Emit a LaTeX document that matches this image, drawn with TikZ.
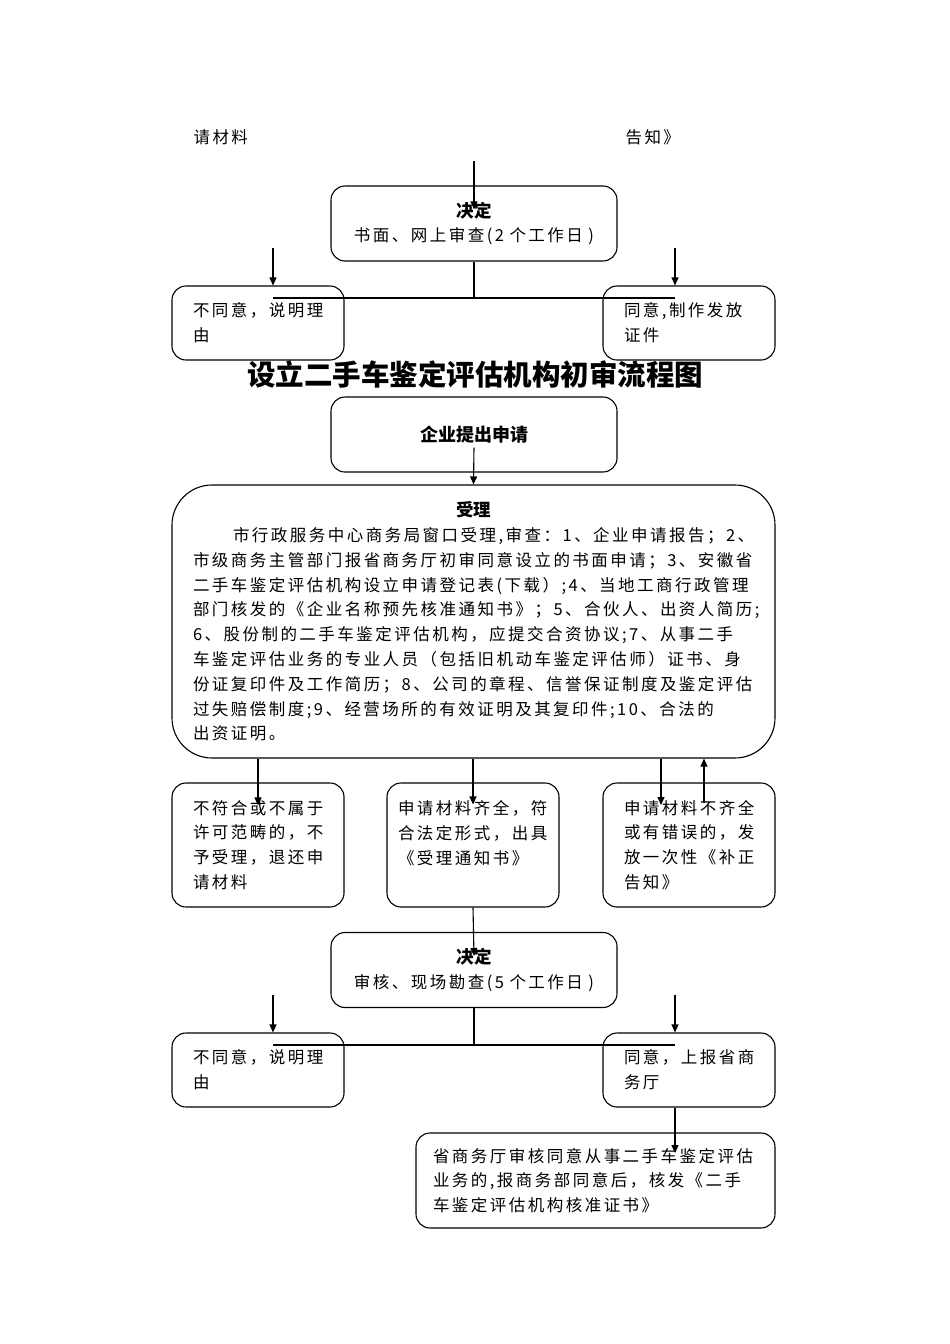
\documentclass[tikz,border=0pt]{standalone}
\usepackage{fontspec}
\setmainfont{Noto Sans CJK SC}
\newfontfamily\bodyfont[LetterSpace=15]{Noto Sans CJK SC}
\newfontfamily\headfont{Noto Sans CJK SC}
\usetikzlibrary{positioning, arrows.meta}

\newcommand{\bodysize}{\fontsize{16.5}{24.8}\selectfont}
\newcommand{\headtxt}[1]{{\headfont\bfseries\fontsize{17.5}{24.8}\selectfont #1}}

\tikzset{
  box/.style={draw, rounded corners=14pt, minimum width=172pt, minimum height=74pt,
    text width=130pt, inner xsep=21pt, inner ysep=0pt, align=left, font=\bodyfont\bodysize},
  tallbox/.style={box, minimum height=124pt},
  decide/.style={box, minimum width=286pt, minimum height=75pt, text width=266pt,
    inner xsep=10pt, align=center},
  bigbox/.style={box, rounded corners=40pt, minimum width=603pt, minimum height=273pt,
    text width=561pt},
  lastbox/.style={box, minimum width=359pt, minimum height=95pt, text width=325pt,
    inner xsep=17pt},
  plain/.style={inner sep=0pt, font=\bodyfont\bodysize},
  heading/.style={inner sep=0pt, font=\headfont\bfseries\fontsize{28.5}{34}\selectfont}
}

\begin{document}
\begin{tikzpicture}[x=1pt, y=-1pt, line width=1.1pt, on grid,
    >={Triangle[length=8pt, width=7pt]}]
    \useasboundingbox (0,0) rectangle (950,1344);

    % leftover lines from the previous page
    \node[plain, anchor=west] (tail1) at (193,137) {请材料};
    \node[plain, anchor=west] (tail2) at (625,137) {告知》};

    % first decision
    \node[decide] (d1) at (474,223.5) {\headtxt{决定}\\书面、网上审查(2 个工作日 )};
    \node[box] (n1) at (258,323) {不同意，说明理\\由};
    \node[box] (y1) [right=431pt of n1] {同意,制作发放\\证件};

    \node[heading] (title) at (475,374) {设立二手车鉴定评估机构初审流程图};

    % application and acceptance
    \node[decide] (apply) at (474,434.5) {\headtxt{\fontsize{18}{24.8}\selectfont 企业提出申请}};
    \node[bigbox] (acc) at (473.5,621.5) {\makebox[561pt]{\headtxt{受理}}\\
        \hspace*{40pt}市行政服务中心商务局窗口受理,审查：1、企业申请报告；2、\\
        市级商务主管部门报省商务厅初审同意设立的书面申请；3、安徽省\\
        二手车鉴定评估机构设立申请登记表(下载）;4、当地工商行政管理\\
        部门核发的《企业名称预先核准通知书》；5、合伙人、出资人简历;\\
        6、股份制的二手车鉴定评估机构，应提交合资协议;7、从事二手\\
        车鉴定评估业务的专业人员（包括旧机动车鉴定评估师）证书、身\\
        份证复印件及工作简历；8、公司的章程、信誉保证制度及鉴定评估\\
        过失赔偿制度;9、经营场所的有效证明及其复印件;10、合法的\\
        出资证明。};

    \node[tallbox] (r1) at (258,845) {不符合或不属于\\许可范畴的，不\\予受理，退还申\\请材料};
    \node[tallbox, text width=150pt, inner xsep=11pt] (r2) [right=215pt of r1]
        {申请材料齐全，符\\合法定形式，出具\\《受理通知书》\\\mbox{}};
    \node[tallbox] (r3) [right=431pt of r1] {申请材料不齐全\\或有错误的，发\\放一次性《补正\\告知》};

    % second decision
    \node[decide] (d2) at (474,970) {\headtxt{决定}\\审核、现场勘查(5 个工作日 )};
    \node[box] (n2) at (258,1070) {不同意，说明理\\由};
    \node[box] (y2) [right=431pt of n2] {同意，上报省商\\务厅};
    \node[lastbox] (fin) at (595.5,1180.5) {省商务厅审核同意从事二手车鉴定评估\\业务的,报商务部同意后，核发《二手\\车鉴定评估机构核准证书》};

    % free ends
    \coordinate (in1) at (474,161);
    \coordinate (s1l) at (273,298);
    \coordinate (s1r) at (675,298);
    \coordinate (a1l) at (273,248);
    \coordinate (a1r) at (675,248);
    \coordinate (t3) at (661,805);
    \coordinate (b3) at (704,803);
    \coordinate (s2l) at (273,1045);
    \coordinate (s2r) at (675,1045);
    \coordinate (a2l) at (273,995);
    \coordinate (a2r) at (675,995);
    \coordinate (t5) at (675,1153);

    \draw[->] (in1) -- ([yshift=-24pt]d1.north);
    \draw (d1.south) -- (d1.south |- s1l);
    \draw (s1l) -- (s1r);
    \draw[->] (a1l) -- (a1l |- n1.north);
    \draw[->] (a1r) -- (a1r |- y1.north);

    \draw[->] ([yshift=25pt]apply.south) -- (acc.north);
    \draw[->] (acc.south -| r1.north) -- ([yshift=-23pt]r1.north);
    \draw[->] (acc.south -| r2.north) -- ([yshift=-22pt]r2.north);
    \draw[->] (acc.south -| t3) -- (t3);
    \draw[->] (b3) -- (b3 |- acc.south);

    \draw[->] (r2.south) -- ([yshift=-24pt]d2.north);
    \draw (d2.south) -- (d2.south |- s2l);
    \draw (s2l) -- (s2r);
    \draw[->] (a2l) -- (a2l |- n2.north);
    \draw[->] (a2r) -- (a2r |- y2.north);
    \draw[->] (y2.south -| t5) -- (t5);
\end{tikzpicture}
\end{document}
